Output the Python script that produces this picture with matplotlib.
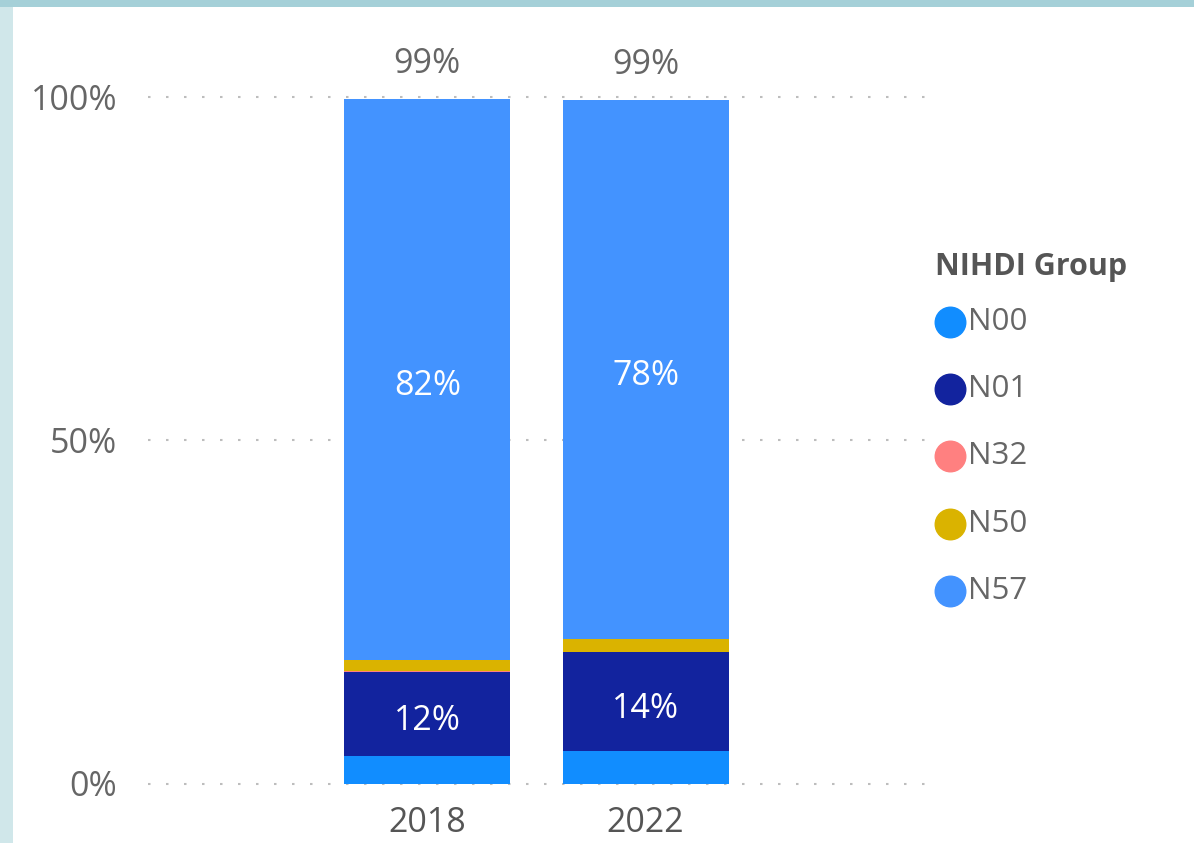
import matplotlib
matplotlib.use("Agg")
import matplotlib.pyplot as plt
from matplotlib.patches import Rectangle
from matplotlib.lines import Line2D
import numpy as np

years = ["2018", "2022"]
groups = ["N00", "N01", "N32", "N50", "N57"]
n00 = [4.0, 4.7]
n01 = [12.2, 14.4]
n32 = [0.2, 0.1]
n50 = [1.6, 1.9]
n57 = [81.7, 78.5]
colors = ["#118DFF", "#12239E", "#FF8080", "#DAB300", "#4393FF"]
yticks = [0, 50, 100]
ytick_labels = ["0%", "50%", "100%"]

series = [n00, n01, n32, n50, n57]
show_label = [False, True, False, False, True]

plt.rcParams['font.family'] = ['Open Sans', 'DejaVu Sans']
W, H = 1194, 843
fig = plt.figure(figsize=(W / 100, H / 100), dpi=100)
fig.patch.set_facecolor("white")

# borders
fig.patches.append(Rectangle((0, 0), 13 / W, 1, transform=fig.transFigure,
                             facecolor="#D0E7EA", edgecolor="none", zorder=0))
fig.patches.append(Rectangle((0, 1 - 7 / H), 1, 7 / H, transform=fig.transFigure,
                             facecolor="#A5D0D8", edgecolor="none", zorder=1))

ax = fig.add_axes([148 / W, (H - 783.5) / H, 777 / W, 686.5 / H])
ax.set_xlim(-1.28, 2.28)
ax.set_ylim(0, 100)
for s in ax.spines.values():
    s.set_visible(False)

for yv in yticks:
    ax.axhline(yv, color="#BDBDBD", lw=1.5, linestyle=(0, (1.2, 7.44)), zorder=0,
               clip_on=False)

x = np.arange(len(years))
bottom = np.zeros(len(years))
width = 0.76
FS = 24.5
for vals, col, lab in zip(series, colors, show_label):
    vals = np.array(vals)
    ax.bar(x, vals, width, bottom=bottom, color=col, zorder=2, linewidth=0)
    if lab:
        for xi, v, b in zip(x, vals, bottom):
            ax.annotate(f"{round(v):.0f}%", (xi, b + v / 2), xytext=(0, -5),
                        textcoords="offset points", ha="center", va="center",
                        color="white", fontsize=FS, zorder=3)
    bottom = bottom + vals

for xi, t in zip(x, bottom):
    ax.annotate(f"{int(t)}%", (xi, t), xytext=(0, 25), textcoords="offset points",
                ha="center", va="center", color="#666666", fontsize=FS,
                annotation_clip=False, zorder=3)

ax.set_yticks(yticks)
ax.set_yticklabels(ytick_labels, fontsize=FS, color="#666666")
ax.set_xticks(x)
ax.set_xticklabels(years, fontsize=FS, color="#555555")
ax.tick_params(axis="y", length=0, pad=22)
ax.tick_params(axis="x", length=0, pad=16)

# legend (manual layout)
fig.text(935 / W, 1 - 267 / H, "NIHDI Group", fontsize=22, fontweight="bold",
         color="#555555", ha="left", va="center")
for i, (g, c) in enumerate(zip(groups, colors)):
    yy = 1 - (322 + 67.2 * i) / H
    fig.add_artist(Line2D([950 / W], [yy], marker="o", markersize=22,
                          markerfacecolor=c, markeredgecolor=c, linestyle="none",
                          transform=fig.transFigure))
    fig.text(968 / W, yy, g, fontsize=22.5, color="#666666", ha="left", va="center")

fig.savefig("out.png", dpi=100, facecolor="white")
